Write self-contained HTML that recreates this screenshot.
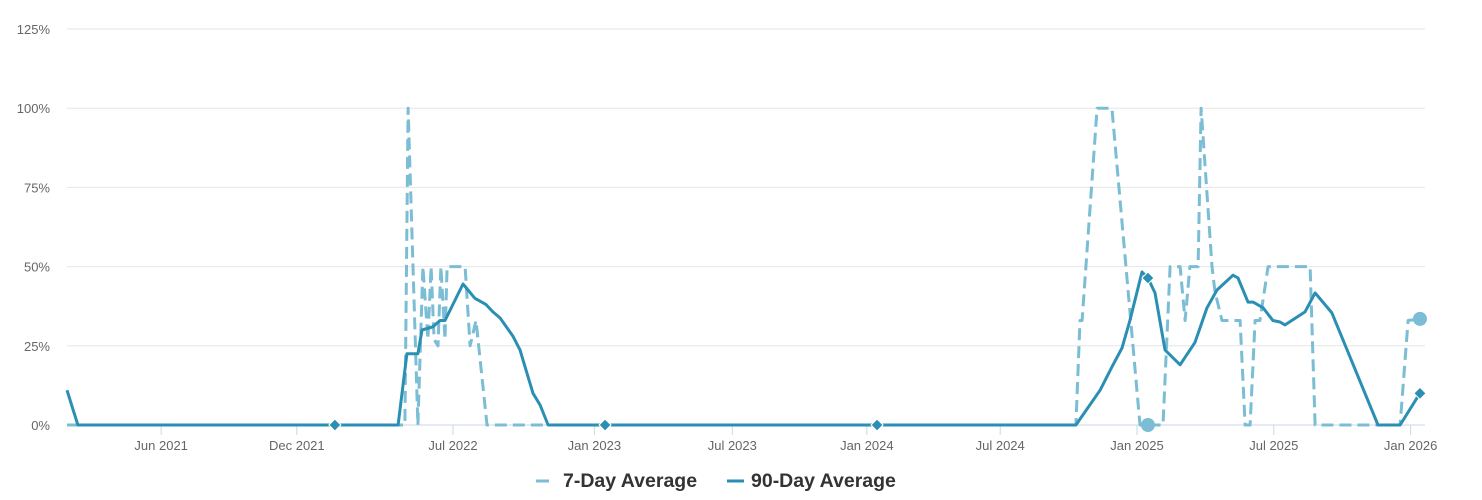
<!DOCTYPE html>
<html><head><meta charset="utf-8"><style>
body{margin:0;background:#fff;font-family:"Liberation Sans",Arial,sans-serif}
svg{display:block}
</style></head><body>
<svg id="chart" width="1482" height="500"></svg>
<script>
// months since Jan 2021 (0 = Jan 1 2021)
const ma90 = [1.07,1.33,1.55,12.82,15.59,15.98,16.46,16.64,17.12,17.43,17.65,18.44,18.96,19.45,19.75,20.06,20.63,20.94,21.51,21.82,22.17,24.67,36.60,45.32,46.38,46.90,47.34,47.69,48.22,48.48,48.79,49.23,49.89,50.54,51.07,51.51,52.21,52.43,52.87,53.09,53.53,53.96,54.27,54.49,55.37,55.81,56.55,58.57,59.54,60.41];
const val90 = [11,5,0,0,0,22.5,22.5,30,31,33,33,44.5,40,38,35.7,33.8,28,23.7,10,6.3,0,0,0,0,11,18.3,24.3,33,48.3,46.4,41.7,23.7,19,26,37,42.6,47.3,46.4,38.8,38.8,37,33,32.5,31.6,35.7,41.7,35.4,0,0,10];
const ma7 = [1.07,15.89,16.03,16.46,16.68,16.90,17.04,17.17,17.34,17.47,17.65,17.74,18.53,18.75,19.01,19.49,45.32,45.50,45.59,46.25,46.90,48.13,49.14,49.45,49.89,50.11,50.32,50.68,50.81,51.29,51.42,51.73,52.52,52.74,52.96,53.18,53.39,53.75,55.59,55.81,59.54,59.89,60.41];
const val7 = [0,0,100,0,50,27,50,27,25,50,27,50,50,25,33,0,0,33,33,100,100,0,0,50,50,33,50,50,100,50,42,33,33,0,0,33,33,50,50,0,0,33,33.5];
const diamondMonths = [12.82,24.67,36.60,48.48,60.41];
const diamondVals = [0,0,0,46.4,10];
const circleMonths = [48.48,60.41];
const circleVals = [0,33.5];
const yTicks = [0,25,50,75,100,125];
const xTickMonths = [5.2,11.15,18,24.2,30.25,36.15,42,48,54,60];
const xTickLabels = ["Jun 2021","Dec 2021","Jul 2022","Jan 2023","Jul 2023","Jan 2024","Jul 2024","Jan 2025","Jul 2025","Jan 2026"];

const NS="http://www.w3.org/2000/svg";
const svg=document.getElementById('chart');
const X0=67,X1=1425,Y0=425,PXPERM=22.8;
const xs=m=>453+(m-18)*PXPERM;
const ys=v=>Y0-v*3.168;
function mk(t,a,p){const e=document.createElementNS(NS,t);for(const k in a)e.setAttribute(k,a[k]);(p||svg).appendChild(e);return e;}

yTicks.forEach(v=>{
  const g=mk('line',{x1:X0,x2:X1,y1:ys(v),y2:ys(v),stroke:v===0?'#ccd6eb':'#e6e6e6','stroke-width':1});
  
  
  const t=mk('text',{x:50,y:ys(v)+5,'text-anchor':'end','font-size':13,fill:'#666'});
  t.textContent=v+'%';
  
  
});
xTickMonths.forEach((m,i)=>{
  const x=xs(m);
  const l=mk('line',{x1:x,x2:x,y1:Y0,y2:Y0+10,stroke:'#ccd6eb'});
  
  
  const t=mk('text',{x:x,y:Y0+25,'text-anchor':'middle','font-size':13,fill:'#666'});
  t.textContent=xTickLabels[i];
  
  
});
function path(ms,vs){return ms.map((m,i)=>(i?'L':'M')+xs(m).toFixed(1)+','+ys(vs[i]).toFixed(1)).join('');}
const p7=mk('path',{d:path(ma7,val7),fill:'none',stroke:'#7bbdd4','stroke-width':3,'stroke-dasharray':'12,6','stroke-linejoin':'round'});


const p90=mk('path',{d:path(ma90,val90),fill:'none',stroke:'#2a8fb3','stroke-width':3,'stroke-linejoin':'round'});


circleMonths.forEach((m,i)=>{
  const c=mk('circle',{cx:xs(m),cy:ys(circleVals[i]),r:7,fill:'#7bbdd4'});
  
  
});
diamondMonths.forEach((m,i)=>{
  const x=xs(m),y=ys(diamondVals[i]);
  const d=mk('path',{d:`M${x},${y-6}L${x+6},${y}L${x},${y+6}L${x-6},${y}Z`,fill:'#2a8fb3',stroke:'#fff','stroke-width':1});
  
  
});
// legend
const lg=mk('g',{});


const l1=mk('line',{x1:536,x2:549,y1:481,y2:481,stroke:'#7bbdd4','stroke-width':3},lg);


const t1=mk('text',{x:563,y:487,'font-size':19.5,'font-weight':'bold',fill:'#333'},lg);
t1.textContent='7-Day Average';


const l2=mk('line',{x1:727,x2:744,y1:481,y2:481,stroke:'#2a8fb3','stroke-width':3},lg);


const t2=mk('text',{x:751,y:487,'font-size':19.5,'font-weight':'bold',fill:'#333'},lg);
t2.textContent='90-Day Average';


</script>
</body></html>
